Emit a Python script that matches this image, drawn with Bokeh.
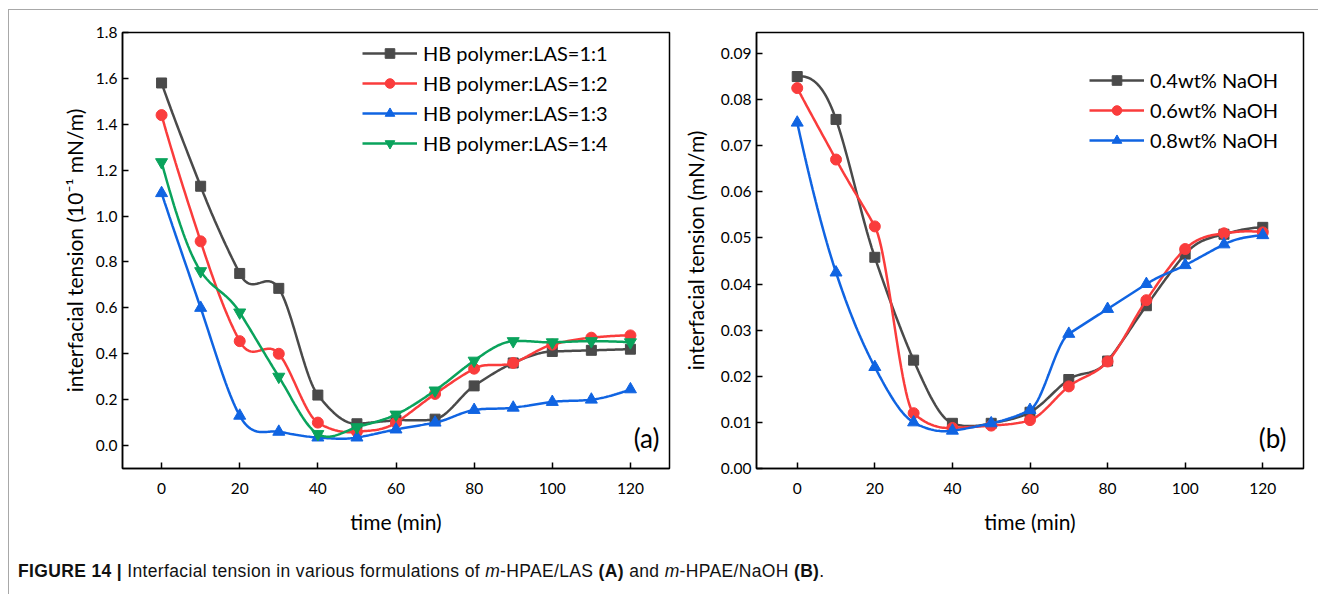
import numpy as np
from bokeh.plotting import figure
from bokeh.layouts import column, row
from bokeh.models import Legend, LegendItem, Label, Div, FixedTicker, NumeralTickFormatter, Range1d
from bokeh.embed import file_html
from bokeh.resources import INLINE

# ---------------- data ----------------
time_min = [0, 10, 20, 30, 40, 50, 60, 70, 80, 90, 100, 110, 120]

las_labels = ["HB polymer:LAS=1:1", "HB polymer:LAS=1:2", "HB polymer:LAS=1:3", "HB polymer:LAS=1:4"]
las_11 = [1.58, 1.13, 0.75, 0.685, 0.22, 0.095, 0.11, 0.115, 0.26, 0.36, 0.41, 0.415, 0.42]
las_12 = [1.44, 0.89, 0.455, 0.40, 0.10, 0.06, 0.10, 0.225, 0.335, 0.36, 0.44, 0.47, 0.48]
las_13 = [1.10, 0.60, 0.13, 0.06, 0.035, 0.035, 0.07, 0.10, 0.155, 0.165, 0.19, 0.20, 0.245]
las_14 = [1.235, 0.76, 0.58, 0.30, 0.05, 0.08, 0.135, 0.24, 0.37, 0.455, 0.45, 0.455, 0.45]

naoh_labels = ["0.4wt% NaOH", "0.6wt% NaOH", "0.8wt% NaOH"]
naoh_04 = [0.085, 0.0757, 0.0458, 0.0235, 0.0098, 0.0098, 0.0122, 0.0193, 0.0233, 0.0353, 0.0465, 0.0508, 0.0523]
naoh_06 = [0.0825, 0.067, 0.0525, 0.012, 0.0088, 0.0093, 0.0105, 0.0178, 0.0232, 0.0365, 0.0476, 0.051, 0.0512]
naoh_08 = [0.075, 0.0425, 0.022, 0.010, 0.0082, 0.0098, 0.0127, 0.0292, 0.0346, 0.040, 0.0441, 0.0486, 0.0506]

x_ticks = [0, 20, 40, 60, 80, 100, 120]
y_ticks_a = [0.0, 0.2, 0.4, 0.6, 0.8, 1.0, 1.2, 1.4, 1.6, 1.8]
y_ticks_b = [0.00, 0.01, 0.02, 0.03, 0.04, 0.05, 0.06, 0.07, 0.08, 0.09]

GRAY, RED, BLUE, GREEN = "#4a4a4a", "#fa3c3c", "#1064e2", "#0aa35c"
FONT = "Lato"


def smooth(xs, ys, n=25):
    """Akima spline drawn through the data points (used only to render the connecting line)."""
    x = np.asarray(xs, float)
    y = np.asarray(ys, float)
    k = len(x)
    s = np.diff(y) / np.diff(x)
    s_ext = np.concatenate([[3 * s[0] - 2 * s[1], 2 * s[0] - s[1]], s,
                            [2 * s[-1] - s[-2], 3 * s[-1] - 2 * s[-2]]])
    t = np.zeros(k)
    for i in range(k):
        m1, m2, m3, m4 = s_ext[i], s_ext[i + 1], s_ext[i + 2], s_ext[i + 3]
        w1, w2 = abs(m4 - m3), abs(m2 - m1)
        t[i] = (m2 + m3) / 2 if (w1 + w2) == 0 else (w1 * m2 + w2 * m3) / (w1 + w2)
    xo, yo = [], []
    for i in range(k - 1):
        h = x[i + 1] - x[i]
        u = np.linspace(0, 1, n, endpoint=(i == k - 2))
        h00 = 2 * u ** 3 - 3 * u ** 2 + 1
        h10 = u ** 3 - 2 * u ** 2 + u
        h01 = -2 * u ** 3 + 3 * u ** 2
        h11 = u ** 3 - u ** 2
        xo.extend(x[i] + u * h)
        yo.extend(h00 * y[i] + h10 * h * t[i] + h01 * y[i + 1] + h11 * h * t[i + 1])
    return xo, yo


def make_fig(width, mbl, mbr, x_rng, y_rng, yticks, yfmt, ylabel, ylab_standoff):
    p = figure(width=width, height=530, output_backend="svg", toolbar_location=None,
               x_range=Range1d(*x_rng), y_range=Range1d(*y_rng),
               min_border_left=mbl, min_border_right=mbr, min_border_top=22, min_border_bottom=72)
    p.grid.visible = False
    p.outline_line_color = "black"
    p.outline_line_width = 1.5
    p.background_fill_color = "white"
    p.border_fill_color = "white"
    for ax in (p.xaxis[0], p.yaxis[0]):
        ax.axis_line_width = 1.5
        ax.axis_line_color = "black"
        ax.major_tick_in = 6
        ax.major_tick_out = 0
        ax.major_tick_line_width = 1.5
        ax.minor_tick_line_color = None
        ax.major_label_text_font = FONT
        ax.major_label_text_font_size = "15.5px"
        ax.major_label_text_color = "black"
        ax.axis_label_text_font = FONT
        ax.axis_label_text_font_size = "21px"
        ax.axis_label_text_font_style = "normal"
        ax.axis_label_text_color = "black"
    p.xaxis.ticker = FixedTicker(ticks=x_ticks)
    p.yaxis.ticker = FixedTicker(ticks=yticks)
    p.yaxis.formatter = NumeralTickFormatter(format=yfmt)
    p.xaxis.axis_label = "time (min)"
    p.yaxis.axis_label = ylabel
    p.xaxis.major_label_standoff = 14
    p.yaxis.major_label_standoff = 5
    p.xaxis.axis_label_standoff = 12
    p.yaxis.axis_label_standoff = ylab_standoff
    return p


def add_series(p, ys, color, marker, size):
    sx, sy = smooth(time_min, ys)
    lr = p.line(sx, sy, line_color=color, line_width=2.5)
    mr = p.scatter(time_min, ys, marker=marker, size=size, fill_color=color, line_color=color)
    return [lr, mr]


def make_legend(items, loc):
    return Legend(items=items, location=loc, padding=0, margin=0, spacing=6,
                  glyph_width=55, glyph_height=24, label_height=24, label_standoff=6,
                  label_text_font=FONT, label_text_font_size="20px", label_text_color="black",
                  border_line_color=None, background_fill_alpha=0)


# ---------------- panel (a) ----------------
p1 = make_fig(670, 113, 10, (-10, 130), (-0.1, 1.8), y_ticks_a, "0.0",
              "interfacial tension (10\u207b\u00b9 mN/m)", 6)
items_a = []
for lab, ys, col, mk, sz in zip(las_labels, [las_11, las_12, las_13, las_14],
                                [GRAY, RED, BLUE, GREEN],
                                ["square", "circle", "triangle", "inverted_triangle"],
                                [10, 11, 12, 12]):
    items_a.append(LegendItem(label=lab, renderers=add_series(p1, ys, col, mk, sz)))
p1.add_layout(make_legend(items_a, (240, 313)), "center")
p1.add_layout(Label(x=537, y=31, x_units="screen", y_units="screen", text="(a)",
                    text_align="right", text_baseline="middle", text_font=FONT,
                    text_font_size="26px", text_color="black"))

# ---------------- panel (b) ----------------
p2 = make_fig(639, 76, 15, (-10.5, 130.5), (0.0, 0.09455), y_ticks_b, "0.00",
              "interfacial tension (mN/m)", 10)
items_b = []
for lab, ys, col, mk, sz in zip(naoh_labels, [naoh_04, naoh_06, naoh_08],
                                [GRAY, RED, BLUE],
                                ["square", "circle", "triangle"],
                                [10, 11, 12]):
    items_b.append(LegendItem(label=lab, renderers=add_series(p2, ys, col, mk, sz)))
p2.add_layout(make_legend(items_b, (333, 316)), "center")
p2.add_layout(Label(x=530, y=31, x_units="screen", y_units="screen", text="(b)",
                    text_align="right", text_baseline="middle", text_font=FONT,
                    text_font_size="26px", text_color="black"))

cap = Div(text="<b>FIGURE 14 |</b> Interfacial tension in various formulations of "
               "<i>m</i>-HPAE/LAS <b>(A)</b> and <i>m</i>-HPAE/NaOH <b>(B)</b>.",
          width=1200, height=30,
          styles={"font-family": "Liberation Sans, Arial, sans-serif", "font-size": "17.5px",
                  "letter-spacing": "0.35px", "color": "#111", "padding-left": "4px",
                  "margin-top": "19px"})

layout = column(row(p1, p2), cap,
                styles={"border-top": "1px solid #a8a8a8", "border-left": "1px solid #a8a8a8",
                        "margin-left": "8px", "margin-top": "9px"})

open("out.html", "w").write(file_html(layout, INLINE))
